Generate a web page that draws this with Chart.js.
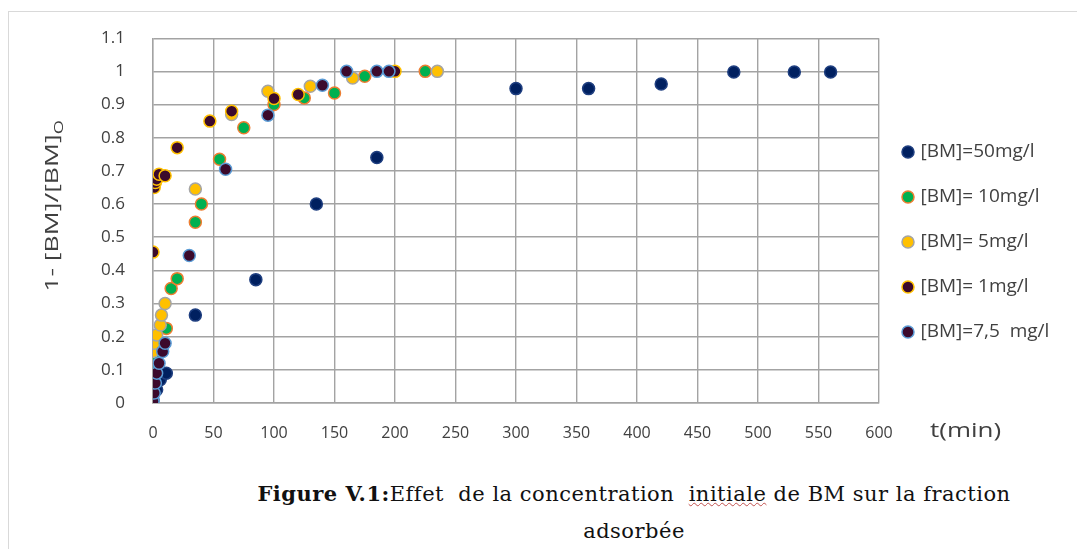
<!DOCTYPE html>
<html>
<head>
<meta charset="utf-8">
<script src="https://cdn.jsdelivr.net/npm/chart.js@4.4.0/dist/chart.umd.min.js"></script>
<style>
  body { margin: 0; background: #fff; width: 1077px; height: 549px; overflow: hidden; position: relative; }
  #frame { position: absolute; left: 8px; top: 11px; width: 1200px; height: 700px; border-left: 1px solid #d9d9d9; border-top: 1px solid #d9d9d9; }
  #wrap { position: absolute; left: 0; top: 0; width: 1077px; height: 460px; }
  #caption { position: absolute; left: 134px; width: 1000px; top: 475px; text-align: center;
             font-family: "DejaVu Serif", "Liberation Serif", serif; font-size: 21px; letter-spacing: 0.5px;
             line-height: 37px; color: #111; white-space: pre; }
  #caption b { font-weight: bold; }
  .spell { text-decoration: underline wavy #c0504d; text-decoration-thickness: 1px; }
</style>
</head>
<body>
<div id="frame"></div>
<div id="wrap"><canvas id="chart"></canvas></div>
<div id="caption"><b>Figure V.1:</b>Effet  de la concentration  <span class="spell">initiale</span> de BM sur la fraction
adsorbée</div>
<script>
// t (min) and 1-[BM]/[BM]0 for each initial concentration
const t50 = [0, 3, 6, 11, 35, 85, 135, 185, 300, 360, 420, 480, 530, 560];
const y50 = [0.01, 0.04, 0.07, 0.09, 0.265, 0.372, 0.60, 0.74, 0.948, 0.948, 0.962, 0.998, 0.998, 0.998];

const t10 = [0, 3, 11, 15, 20, 35, 40, 55, 75, 100, 125, 150, 175, 225];
const y10 = [0.10, 0.13, 0.225, 0.345, 0.375, 0.545, 0.60, 0.735, 0.83, 0.90, 0.92, 0.935, 0.985, 1.0];

const t5 = [0, 1, 3, 6, 7, 10, 35, 65, 95, 130, 165, 235];
const y5 = [0.155, 0.18, 0.205, 0.235, 0.265, 0.30, 0.645, 0.87, 0.94, 0.955, 0.98, 1.0];

const t1 = [0, 1, 2, 3, 5, 10, 20, 47, 65, 100, 120, 200];
const y1 = [0.455, 0.65, 0.665, 0.675, 0.69, 0.685, 0.77, 0.85, 0.88, 0.918, 0.93, 1.0];

const t75 = [0, 1, 2, 3, 5, 8, 10, 30, 60, 95, 140, 160, 185, 195];
const y75 = [0.005, 0.03, 0.06, 0.09, 0.12, 0.155, 0.18, 0.445, 0.705, 0.868, 0.958, 1.0, 1.0, 1.0];

const seriesLabels = ['[BM]=50mg/l', '[BM]= 10mg/l', '[BM]= 5mg/l', '[BM]= 1mg/l', '[BM]=7,5  mg/l'];
const xTicks = { min: 0, max: 600, step: 50 };
const yTicks = { min: 0, max: 1.1, step: 0.1 };

function points(ts, ys) {
    return ts.map((t, i) => ({ x: t, y: ys[i] }));
}

function makeSet(label, ts, ys, fill, edge, order) {
    return {
        label: label,
        data: points(ts, ys),
        backgroundColor: fill,
        borderColor: edge,
        borderWidth: 1.5,
        pointRadius: 6,
        pointHoverRadius: 6,
        pointStyle: 'circle',
        showLine: false,
        order: order
    };
}

const gridColor = '#a3a3a3';
const tickColor = '#404040';
const plotRight = 879; // right edge of the plot area wanted in the page

// axis titles are placed like in the spreadsheet export: rotated y title, x title beside the last tick
const axisTitles = {
    id: 'axisTitles',
    afterDraw(chart) {
        const ctx = chart.ctx;
        ctx.save();
        ctx.fillStyle = tickColor;
        ctx.textBaseline = 'alphabetic';

        // y title with subscript
        const main = '1- [BM]/[BM]';
        ctx.font = '19px "Open Sans"';
        const w1 = ctx.measureText(main).width;
        ctx.font = '13px "Open Sans"';
        const w2 = ctx.measureText('O').width;
        ctx.translate(58, 206);
        ctx.rotate(-Math.PI / 2);
        ctx.scale(1.4, 1);
        const start = -(w1 + w2) / 2;
        ctx.font = '19px "Open Sans"';
        ctx.fillText(main, start, 0);
        ctx.font = '13px "Open Sans"';
        ctx.fillText('O', start + w1, 5);
        ctx.restore();

        // x title
        ctx.save();
        ctx.fillStyle = tickColor;
        ctx.font = '20px "Open Sans"';
        ctx.textBaseline = 'middle';
        ctx.translate(930, 431);
        ctx.scale(1.3, 1);
        ctx.fillText('t(min)', 0, 0);
        ctx.restore();
    }
};

const ctx = document.getElementById('chart').getContext('2d');
const chart = new Chart(ctx, {
    type: 'scatter',
    data: {
        datasets: [
            makeSet(seriesLabels[0], t50, y50, '#002060', '#1f3f80', 5),
            makeSet(seriesLabels[1], t10, y10, '#00b050', '#ed7d31', 4),
            makeSet(seriesLabels[2], t5, y5, '#ffc000', '#a5a5a5', 3),
            makeSet(seriesLabels[3], t1, y1, '#3c0a2c', '#ffc000', 2),
            makeSet(seriesLabels[4], t75, y75, '#3c0a2c', '#5b9bd5', 1)
        ]
    },
    options: {
        responsive: true,
        maintainAspectRatio: false,
        animation: false,
        layout: { padding: { left: 0, top: 29, right: 0, bottom: 0 } },
        plugins: {
            tooltip: { enabled: false },
            legend: {
                position: 'right',
                align: 'start',
                title: { display: true, text: ' ', font: { size: 10 }, padding: { top: 75.5, bottom: 0 } },
                labels: {
                    usePointStyle: true,
                    boxWidth: 6,
                    boxHeight: 8.5,
                    padding: 26,
                    color: tickColor,
                    font: { family: '"Open Sans"', size: 19 },
                    sort: (a, b) => a.datasetIndex - b.datasetIndex
                }
            }
        },
        scales: {
            x: {
                type: 'linear',
                min: xTicks.min,
                max: xTicks.max,
                afterFit: s => { s.height = 57; },
                ticks: { stepSize: xTicks.step, color: tickColor, padding: 21, font: { family: '"Open Sans"', size: 16 } },
                grid: { color: gridColor, lineWidth: 1.4, drawTicks: false },
                border: { color: gridColor, width: 1.4 }
            },
            y: {
                type: 'linear',
                min: yTicks.min,
                max: yTicks.max,
                afterFit: s => { s.width = 153; },
                ticks: {
                    stepSize: yTicks.step, color: tickColor, padding: 28, font: { family: '"Open Sans"', size: 17 },
                    callback: v => String(Math.round(v * 10) / 10)
                },
                grid: { color: gridColor, lineWidth: 1.4, drawTicks: false },
                border: { color: gridColor, width: 1.4 }
            }
        }
    },
    plugins: [axisTitles]
});

// push the legend box so that the plot area ends where it does in the source figure
const extra = chart.width - plotRight - chart.legend.width;
chart.options.layout.padding.right = Math.max(0, extra);
chart.update();
</script>
</body>
</html>
